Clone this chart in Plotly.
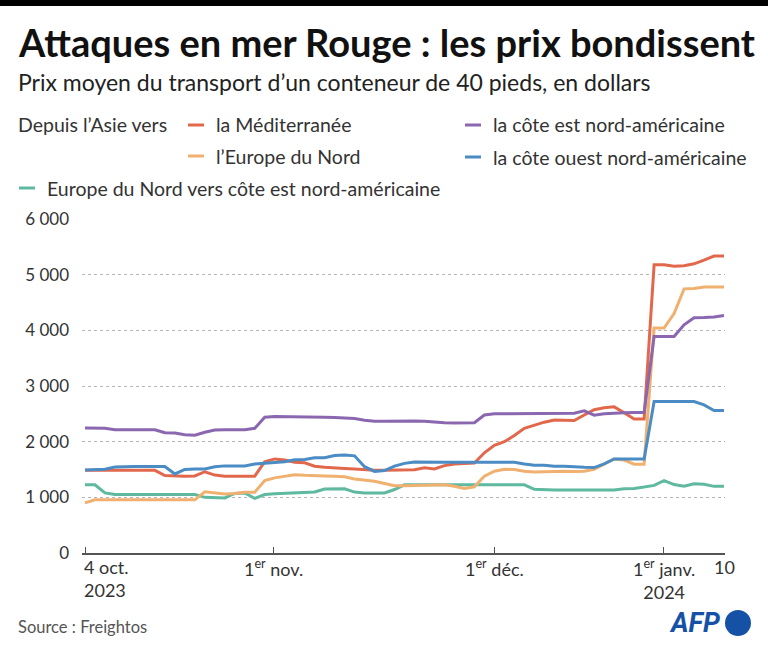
import plotly.graph_objects as go

# ---------------- data ----------------
obs = list(range(65))  # successive observations, 4 oct. 2023 -> 10 janv. 2024

tick_pos = [0, 18.83, 40.97, 57.99, 64]
tick_labels = ["4 oct.<br>2023", "1<sup>er</sup> nov.", "1<sup>er</sup> déc.",
               "1<sup>er</sup> janv.<br>2024", "10"]
tick_anchor = ["left", "center", "center", "center", "center"]

y_ticks = [0, 1000, 2000, 3000, 4000, 5000, 6000]
y_tick_text = ["0", "1 000", "2 000", "3 000", "4 000", "5 000", "6 000"]

mediterranee = [
    1485, 1485, 1485, 1485, 1485, 1485, 1485, 1485, 1390, 1380,
    1380, 1385, 1460, 1400, 1380, 1380, 1380, 1380, 1640, 1690,
    1670, 1630, 1620, 1560, 1540, 1535, 1520, 1510, 1495, 1485,
    1485, 1485, 1490, 1495, 1530, 1510, 1570, 1600, 1610, 1615,
    1800, 1935, 2000, 2110, 2240, 2300, 2350, 2390, 2390, 2380,
    2480, 2575, 2610, 2625, 2520, 2405, 2405, 5180, 5180, 5150,
    5160, 5195, 5260, 5335, 5335]

europe_nord = [
    900, 955, 955, 955, 955, 955, 955, 955, 955, 955,
    955, 955, 1100, 1080, 1060, 1070, 1090, 1090, 1300, 1350,
    1380, 1405, 1395, 1385, 1385, 1380, 1370, 1330, 1305, 1290,
    1250, 1209, 1209, 1210, 1215, 1220, 1225, 1200, 1160, 1190,
    1380, 1470, 1505, 1500, 1470, 1455, 1460, 1470, 1468, 1465,
    1470, 1505, 1600, 1690, 1670, 1595, 1595, 4040, 4040, 4300,
    4745, 4750, 4780, 4780, 4780]

cote_est = [
    2245, 2245, 2240, 2215, 2215, 2215, 2215, 2215, 2160, 2155,
    2125, 2115, 2170, 2210, 2215, 2215, 2215, 2240, 2440, 2450,
    2450, 2445, 2440, 2440, 2440, 2435, 2420, 2415, 2385, 2365,
    2365, 2370, 2375, 2370, 2365, 2350, 2340, 2335, 2335, 2340,
    2480, 2500, 2500, 2500, 2500, 2500, 2505, 2505, 2505, 2510,
    2555, 2475, 2500, 2515, 2520, 2525, 2525, 3890, 3890, 3890,
    4100, 4225, 4230, 4240, 4265]

cote_ouest = [
    1490, 1495, 1505, 1545, 1555, 1555, 1555, 1555, 1555, 1420,
    1500, 1510, 1510, 1550, 1565, 1565, 1565, 1600, 1615, 1620,
    1640, 1675, 1680, 1710, 1710, 1750, 1760, 1745, 1550, 1466,
    1480, 1560, 1610, 1635, 1630, 1630, 1630, 1630, 1630, 1630,
    1630, 1630, 1630, 1630, 1600, 1575, 1575, 1560, 1560, 1545,
    1540, 1535, 1600, 1690, 1690, 1690, 1690, 2720, 2720, 2720,
    2720, 2720, 2660, 2560, 2560]

europe_vers_cote_est = [
    1225, 1225, 1080, 1050, 1050, 1050, 1050, 1050, 1050, 1050,
    1050, 1050, 1000, 990, 990, 1070, 1080, 980, 1050, 1065,
    1070, 1075, 1080, 1095, 1150, 1155, 1155, 1095, 1080, 1080,
    1080, 1140, 1225, 1225, 1225, 1225, 1225, 1225, 1225, 1225,
    1225, 1225, 1225, 1225, 1225, 1145, 1135, 1130, 1130, 1130,
    1130, 1130, 1130, 1130, 1155, 1160, 1185, 1215, 1300, 1230,
    1200, 1245, 1235, 1197, 1197]

series = [
    ("Europe du Nord vers côte est nord-américaine", europe_vers_cote_est, "#5fb8a0"),
    ("l'Europe du Nord", europe_nord, "#f0b170"),
    ("la Méditerranée", mediterranee, "#e2684c"),
    ("la côte est nord-américaine", cote_est, "#8b67b0"),
    ("la côte ouest nord-américaine", cote_ouest, "#4a8cc3"),
]

# ---------------- layout helpers ----------------
W, H = 768, 651
L, R, T, B = 82, 725, 219, 553
FONT = "Lato"


def px(x):
    return (x - L) / (R - L)


def py(y):
    return (B - y) / (B - T)


fig = go.Figure()
for name, vals, col in series:
    fig.add_trace(go.Scatter(x=obs, y=vals, mode="lines", name=name,
                             line=dict(color=col, width=3), hoverinfo="skip"))

annotations = []
shapes = []


def text(x, y, s, size, color="#333", anchor="left", bold=False, valign="middle"):
    annotations.append(dict(
        x=px(x), y=py(y), xref="paper", yref="paper", text=s, showarrow=False,
        xanchor=anchor, yanchor=valign,
        font=dict(family=FONT, size=size, color=color,
                  weight="bold" if bold else "normal")))


# top black bar
shapes.append(dict(type="rect", xref="paper", yref="paper",
                   x0=px(0), x1=px(W), y0=py(0), y1=py(6),
                   fillcolor="#000", line=dict(width=0), layer="above"))

text(16, 42, "Attaques en mer Rouge : les prix bondissent", 38, "#111", bold=True)
text(16, 82, "Prix moyen du transport d’un conteneur de 40 pieds, en dollars", 23, "#222")

# legend
text(16, 125, "Depuis l’Asie vers", 19.5)
legend_items = [
    (188, 125, "la Méditerranée", "#e2684c"),
    (188, 156, "l’Europe du Nord", "#f0b170"),
    (465, 125, "la côte est nord-américaine", "#8b67b0"),
    (465, 157, "la côte ouest nord-américaine", "#4a8cc3"),
    (19, 188, "Europe du Nord vers côte est nord-américaine", "#5fb8a0"),
]
for x, y, s, col in legend_items:
    shapes.append(dict(type="line", xref="paper", yref="paper",
                       x0=px(x), x1=px(x + 16), y0=py(y), y1=py(y),
                       line=dict(color=col, width=3)))
    text(x + 26, y, s, 19.5)

# x tick labels (positioned through the x axis)
for pos, lab, anc in zip(tick_pos, tick_labels, tick_anchor):
    annotations.append(dict(
        x=pos, y=py(554), xref="x", yref="paper", text=lab, showarrow=False,
        xanchor=anc, yanchor="top", align=anc, xshift=-3 if anc == "left" else 0,
        font=dict(family=FONT, size=18, color="#333")))

text(16, 627, "Source : Freightos", 16.5, "#555")

# AFP logo
annotations.append(dict(x=px(722), y=py(623), xref="paper", yref="paper",
                        text="<b><i>AFP</i></b>", showarrow=False,
                        xanchor="right", yanchor="middle",
                        font=dict(family="Roboto", size=27, color="#1552a6")))
shapes.append(dict(type="circle", xref="paper", yref="paper",
                   x0=px(725), x1=px(751), y0=py(636), y1=py(610),
                   fillcolor="#1552a6", line=dict(width=0)))

fig.update_layout(
    width=W, height=H,
    margin=dict(l=L, r=W - R, t=T, b=H - B),
    paper_bgcolor="white", plot_bgcolor="white",
    showlegend=False,
    font=dict(family=FONT, size=17, color="#333"),
    annotations=annotations, shapes=shapes,
    xaxis=dict(range=[-0.3, 64.1], tickvals=tick_pos, showticklabels=False,
               ticks="inside", ticklen=6, tickcolor="#555", tickwidth=1,
               showgrid=False, zeroline=False,
               showline=True, linecolor="#555", linewidth=1.5),
    yaxis=dict(range=[0, 6000], tickvals=y_ticks, ticktext=y_tick_text,
               showgrid=True, gridcolor="#b5b5b5", griddash="dot", gridwidth=1,
               zeroline=False, showline=False, ticks="",
               ticklabelstandoff=12,
               tickfont=dict(family=FONT, size=17, color="#333")),
)

fig.write_html("out.html", config={"displayModeBar": False},
               post_script="document.body.style.margin='0';document.body.style.overflow='hidden';")
